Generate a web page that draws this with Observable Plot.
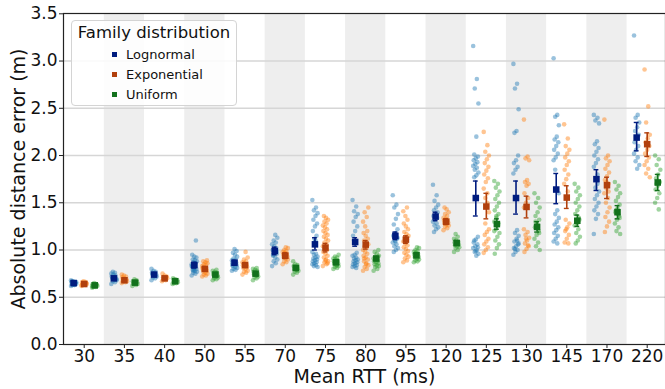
<!DOCTYPE html>
<html>
<head>
<meta charset="utf-8">
<script src="https://cdn.jsdelivr.net/npm/d3@7"></script>
<script src="https://cdn.jsdelivr.net/npm/@observablehq/plot@0.6"></script>
<style>
  html, body { margin: 0; padding: 0; background: #fff; }
  #wrap { position: relative; width: 665px; height: 389px; overflow: hidden; font-family: "DejaVu Sans", sans-serif; }
  #legend { position: absolute; left: 71px; top: 20px; width: 166px; height: 86px; border: 1px solid #d4d4d4; border-radius: 4px; background: rgba(255,255,255,0.85); box-sizing: border-box; }
  #legend .title { position: absolute; left: 0; width: 100%; text-align: center; top: 2px; font-size: 16.5px; color: #111; }
  #legend .item { position: absolute; left: 40px; font-size: 13px; color: #111; line-height: 16px; }
  #legend .sw { display: inline-block; width: 5px; height: 5px; margin-right: 9px; vertical-align: middle; position: relative; top: -1px; }
</style>
</head>
<body>
<div id="wrap"></div>
<script>
const categories = ["30","35","40","50","55","70","75","80","95","120","125","130","145","170","220"];
const seriesNames = ["Lognormal","Exponential","Uniform"];
const yTicks = [0, 0.5, 1.0, 1.5, 2.0, 2.5, 3.0, 3.5];

const lognormalMean = [0.65,0.70,0.74,0.84,0.866,0.99,1.06,1.085,1.15,1.354,1.55,1.55,1.64,1.75,2.19];
const lognormalLo   = [0.63,0.68,0.72,0.81,0.84,0.95,1.00,1.04,1.11,1.31,1.36,1.38,1.49,1.63,2.05];
const lognormalHi   = [0.67,0.72,0.76,0.87,0.89,1.03,1.13,1.13,1.19,1.40,1.73,1.73,1.81,1.85,2.35];
const exponentialMean = [0.64,0.68,0.70,0.80,0.84,0.94,1.025,1.057,1.11,1.30,1.46,1.456,1.555,1.686,2.12];
const exponentialLo   = [0.63,0.67,0.69,0.78,0.82,0.91,0.98,1.01,1.07,1.27,1.33,1.34,1.44,1.545,1.99];
const exponentialHi   = [0.65,0.69,0.71,0.82,0.86,0.97,1.07,1.10,1.15,1.33,1.60,1.57,1.68,1.77,2.24];
const uniformMean = [0.626,0.655,0.67,0.74,0.75,0.81,0.87,0.91,0.944,1.074,1.275,1.244,1.31,1.40,1.715];
const uniformLo   = [0.62,0.645,0.66,0.73,0.74,0.79,0.85,0.89,0.93,1.05,1.22,1.19,1.25,1.33,1.63];
const uniformHi   = [0.635,0.665,0.68,0.75,0.76,0.83,0.89,0.93,0.96,1.10,1.33,1.30,1.37,1.47,1.80];

const lognormalPoints = [
  [0.62,0.63,0.63,0.64,0.64,0.65,0.65,0.65,0.66,0.66,0.67,0.68,0.64,0.65,0.66,0.63,0.67],
  [0.64,0.66,0.67,0.68,0.69,0.70,0.70,0.71,0.72,0.73,0.74,0.75,0.76,0.77,0.69,0.71],
  [0.68,0.70,0.71,0.72,0.73,0.74,0.74,0.75,0.76,0.77,0.78,0.80],
  [0.73,0.75,0.76,0.77,0.78,0.79,0.80,0.81,0.82,0.83,0.84,0.85,0.86,0.87,0.88,0.89,0.90,0.92,0.93,0.95,1.10,0.80,0.83,0.86,0.78],
  [0.78,0.79,0.80,0.81,0.82,0.83,0.84,0.85,0.86,0.87,0.88,0.89,0.90,0.91,0.93,0.95,0.97,0.99,1.01,0.84],
  [0.83,0.86,0.88,0.90,0.92,0.94,0.96,0.98,1.00,1.02,1.04,1.06,1.08,1.10,1.13,1.16,0.95,0.99],
  [1.53,1.45,1.42,1.39,1.36,1.32,1.28,1.25,1.20,1.15,1.12,0.98,0.96,0.95,0.93,0.92,0.91,0.90,0.89,0.88,0.87,0.86,0.85,0.84,0.83,0.82,1.10],
  [1.53,1.46,1.41,1.38,1.35,1.30,1.25,1.20,1.15,0.97,0.95,0.94,0.92,0.91,0.90,0.89,0.88,0.87,0.86,0.85,0.84,0.83,0.82,0.81,1.10],
  [1.58,1.48,1.45,1.38,1.33,1.27,1.22,1.18,1.15,1.12,1.10,1.08,1.06,1.04,1.02,1.00,0.98,1.13,1.09],
  [1.69,1.58,1.52,1.48,1.45,1.42,1.40,1.38,1.36,1.34,1.32,1.30,1.28,1.26,1.24,1.22,1.19],
  [3.16,2.81,2.71,2.55,2.20,2.01,1.99,1.97,1.95,1.93,1.91,1.89,1.87,1.85,1.82,1.79,1.77,1.14,1.11,1.08,1.06,1.04,1.02,1.00,0.98,0.96,0.94,1.10,1.03,0.99],
  [2.97,2.76,2.71,2.49,2.26,2.24,2.00,1.95,1.92,1.88,1.85,1.81,1.21,1.18,1.15,1.12,1.09,1.06,1.04,1.02,1.00,0.98,0.95,1.10,1.01,1.07],
  [3.03,2.43,2.41,2.32,2.20,2.17,2.14,2.10,2.06,2.02,1.98,1.95,1.42,1.38,1.34,1.30,1.27,1.24,1.21,1.18,1.15,1.12,1.09,1.07,1.85,1.60],
  [2.43,2.40,2.37,2.34,2.15,2.12,2.08,2.04,2.00,1.96,1.92,1.88,1.70,1.66,1.62,1.58,1.54,1.50,1.46,1.42,1.38,1.33,1.17,1.80],
  [3.27,2.43,2.40,2.35,2.30,2.26,2.22,2.18,2.14,2.10,2.06,2.02,1.98,1.94,1.90,1.86]
];
const exponentialPoints = [
  [0.62,0.63,0.63,0.64,0.64,0.64,0.65,0.65,0.66,0.66,0.67,0.63,0.65],
  [0.65,0.66,0.67,0.67,0.68,0.68,0.69,0.70,0.71,0.72,0.73,0.74],
  [0.67,0.68,0.69,0.70,0.70,0.71,0.72,0.73,0.75],
  [0.72,0.73,0.74,0.75,0.76,0.77,0.78,0.79,0.80,0.81,0.82,0.83,0.84,0.85,0.86,0.87,0.88,0.89,0.79,0.81],
  [0.74,0.76,0.77,0.78,0.80,0.81,0.82,0.83,0.84,0.85,0.86,0.87,0.88,0.90,0.92,0.98],
  [0.85,0.87,0.88,0.90,0.91,0.92,0.93,0.94,0.95,0.96,0.97,0.98,0.99,1.00,1.02,1.03],
  [0.83,0.85,0.87,0.88,0.90,0.92,0.94,0.96,0.98,1.00,1.02,1.04,1.06,1.08,1.10,1.12,1.14,1.16,1.18,1.20,1.22,1.24,1.26,1.28,1.30,1.32,1.34,1.36,0.86,0.89],
  [0.78,0.80,0.82,0.84,0.86,0.88,0.90,0.92,0.94,0.96,0.98,1.00,1.02,1.04,1.06,1.08,1.10,1.12,1.15,1.18,1.20,1.25,1.30,1.35,1.40,1.45,0.85,0.91],
  [0.87,0.89,0.91,0.93,0.95,0.97,0.99,1.01,1.03,1.05,1.07,1.09,1.11,1.13,1.15,1.17,1.19,1.22,1.25,1.28,1.32,1.36,1.41,1.45],
  [1.21,1.23,1.25,1.26,1.27,1.28,1.29,1.30,1.31,1.32,1.33,1.34,1.36,1.38,1.40,1.43,1.45],
  [2.25,2.11,2.04,2.00,1.96,1.92,1.88,1.84,1.80,1.76,1.72,1.65,1.60,1.55,1.22,1.19,1.16,1.12,1.09,1.06,1.03,1.00,0.97,1.50,1.28,1.40],
  [2.38,1.99,1.97,1.95,1.74,1.72,1.70,1.68,1.60,1.55,1.50,1.22,1.19,1.16,1.13,1.10,1.07,1.04,1.01,0.98,1.05,1.12,1.45],
  [2.33,2.18,2.10,2.06,2.02,1.98,1.94,1.90,1.85,1.80,1.75,1.70,1.62,1.32,1.28,1.24,1.20,1.16,1.12,1.08,1.07,1.22],
  [2.38,2.00,1.97,1.94,1.90,1.86,1.82,1.78,1.74,1.70,1.65,1.60,1.55,1.50,1.45,1.40,1.35,1.30,1.25,1.19,1.62,1.72],
  [2.91,2.52,2.35,2.22,2.18,2.14,2.10,2.06,2.02,1.98,1.94,1.90,1.86,1.81,1.77]
];
const uniformPoints = [
  [0.60,0.61,0.61,0.62,0.62,0.62,0.63,0.63,0.64,0.64,0.65,0.62],
  [0.62,0.63,0.64,0.64,0.65,0.65,0.66,0.66,0.67,0.68,0.69],
  [0.64,0.65,0.65,0.66,0.67,0.67,0.68,0.69,0.70],
  [0.68,0.69,0.70,0.71,0.72,0.73,0.73,0.74,0.75,0.76,0.77,0.78,0.79,0.72],
  [0.68,0.70,0.71,0.72,0.73,0.74,0.75,0.76,0.77,0.78,0.79,0.80,0.81],
  [0.74,0.76,0.77,0.78,0.79,0.80,0.81,0.82,0.83,0.84,0.85,0.88],
  [0.80,0.81,0.82,0.83,0.84,0.85,0.86,0.87,0.88,0.89,0.90,0.91,0.92,0.93,0.95,0.84,0.87],
  [0.78,0.80,0.82,0.83,0.84,0.85,0.86,0.87,0.88,0.89,0.90,0.91,0.92,0.93,0.94,0.96,0.98,1.00],
  [0.87,0.88,0.89,0.90,0.91,0.92,0.93,0.94,0.95,0.96,0.97,0.98,0.99,1.00,1.02,1.03],
  [0.98,1.00,1.02,1.03,1.04,1.05,1.06,1.07,1.08,1.09,1.10,1.12,1.14,1.17],
  [1.73,1.70,1.66,1.62,1.58,1.54,1.50,1.46,1.42,1.38,1.34,1.30,1.26,1.22,1.18,1.14,1.10,1.06,1.02,0.96,1.28,1.36,1.20],
  [1.60,1.55,1.50,1.45,1.40,1.36,1.32,1.28,1.24,1.20,1.16,1.12,1.08,1.04,1.00,1.26,1.30,1.18],
  [1.70,1.66,1.62,1.58,1.54,1.50,1.46,1.42,1.38,1.34,1.30,1.26,1.22,1.18,1.14,1.10,1.07,1.32,1.28],
  [1.72,1.68,1.64,1.60,1.56,1.52,1.48,1.44,1.40,1.36,1.32,1.28,1.24,1.20,1.17,1.38,1.42,1.34],
  [2.00,1.96,1.90,1.85,1.80,1.76,1.72,1.68,1.64,1.60,1.55,1.50,1.43,1.70]
];

// styling (kept out of the data arrays)
const lightColors = {Lognormal: "#1f77b4", Exponential: "#ff7f0e", Uniform: "#2ca02c"};
const darkColors  = {Lognormal: "#001c7f", Exponential: "#b1400d", Uniform: "#12711c"};
const offset = {Lognormal: -0.262, Exponential: 0, Uniform: 0.262};
const jitter = j => ((((j * 7) % 11) / 10) - 0.5) * 0.13;

const sets = {
  Lognormal: {pts: lognormalPoints, mean: lognormalMean, lo: lognormalLo, hi: lognormalHi},
  Exponential: {pts: exponentialPoints, mean: exponentialMean, lo: exponentialLo, hi: exponentialHi},
  Uniform: {pts: uniformPoints, mean: uniformMean, lo: uniformLo, hi: uniformHi}
};

const bands = categories.map((c, i) => i).filter(i => i % 2 === 1);

const marks = [
  Plot.rect(bands, {x1: d => d - 0.5, x2: d => d + 0.5, y1: 0, y2: 3.5, fill: "#eeeeee"}),
  Plot.ruleY(yTicks.slice(1, -1), {stroke: "#d6d6d6", strokeWidth: 1.4})
];

for (const s of seriesNames) {
  const set = sets[s];
  const rows = [];
  set.pts.forEach((arr, i) => arr.forEach((v, j) => rows.push({x: i + offset[s] + jitter(j), y: v})));
  marks.push(Plot.dot(rows, {x: "x", y: "y", r: 2.3, fill: lightColors[s], fillOpacity: 0.45, stroke: "none"}));
}
for (const s of seriesNames) {
  const set = sets[s];
  const m = categories.map((c, i) => ({x: i + offset[s], mean: set.mean[i], lo: set.lo[i], hi: set.hi[i]}));
  marks.push(Plot.ruleX(m, {x: "x", y1: "lo", y2: "hi", stroke: darkColors[s], strokeWidth: 1.6}));
  marks.push(Plot.ruleY(m, {x1: d => d.x - 0.06, x2: d => d.x + 0.06, y: "lo", stroke: darkColors[s], strokeWidth: 1.4}));
  marks.push(Plot.ruleY(m, {x1: d => d.x - 0.06, x2: d => d.x + 0.06, y: "hi", stroke: darkColors[s], strokeWidth: 1.4}));
  marks.push(Plot.dot(m, {x: "x", y: "mean", symbol: "square", r: 3.7, fill: darkColors[s], stroke: "none"}));
}

marks.push(Plot.frame({stroke: "#222", strokeWidth: 1.2}));
marks.push(Plot.axisY({ticks: yTicks, tickFormat: d3.format(".1f"), tickSize: 4, tickPadding: 2, fontSize: 17, label: null, stroke: "#222"}));
marks.push(Plot.axisX({ticks: categories.map((c, i) => i), tickFormat: i => categories[i], tickSize: 4, tickPadding: 1, fontSize: 17, label: null, stroke: "#222"}));
marks.push(Plot.text(["Absolute distance error (m)"], {frameAnchor: "left", text: d => d, rotate: -90, dx: -45, fontSize: 19, textAnchor: "middle", lineAnchor: "middle", fill: "#111"}));
marks.push(Plot.text(["Mean RTT (ms)"], {frameAnchor: "bottom", text: d => d, dy: 32, fontSize: 19, textAnchor: "middle", lineAnchor: "middle", fill: "#111"}));

const chart = Plot.plot({
  width: 665,
  height: 389,
  marginLeft: 63,
  marginRight: 0,
  marginTop: 13,
  marginBottom: 45,
  style: {fontFamily: "DejaVu Sans", background: "white", color: "#111", overflow: "visible"},
  x: {type: "linear", domain: [-0.5, 14.5], range: [63.6, 666.8]},
  y: {domain: [0, 3.5], range: [344, 13.3]},
  marks
});

const wrap = document.getElementById("wrap");
wrap.appendChild(chart);

const legend = document.createElement("div");
legend.id = "legend";
let html = `<div class="title">Family distribution</div>`;
seriesNames.forEach((s, k) => {
  html += `<div class="item" style="top:${26 + k * 20}px"><span class="sw" style="background:${darkColors[s]}"></span>${s}</div>`;
});
legend.innerHTML = html;
wrap.appendChild(legend);
</script>
</body>
</html>
